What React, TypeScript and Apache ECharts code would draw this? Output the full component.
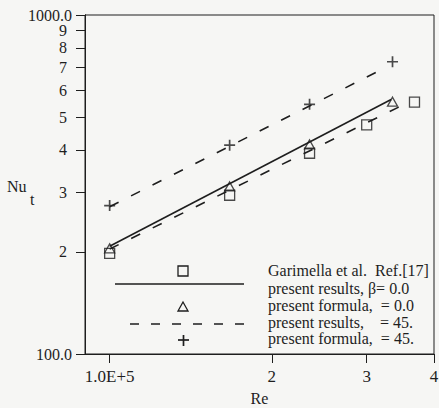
import React, { useEffect, useRef } from "react";
import * as echarts from "echarts";

// ---- data (Re, Nu_t) ----
const reGarimella = [1.0e5, 1.67e5, 2.35e5, 3.0e5, 3.68e5];
const nuGarimella = [198, 294, 391, 474, 553];

const reFormula0 = [1.0e5, 1.67e5, 2.35e5, 3.35e5];
const nuFormula0 = [205, 312, 415, 555];

const reFormula45 = [1.0e5, 1.67e5, 2.35e5, 3.35e5];
const nuFormula45 = [274, 413, 545, 728];

const reResults0 = [1.0e5, 3.33e5];
const nuResults0 = [208, 563];

const reResults45 = [1.0e5, 3.15e5];
const nuResults45 = [272, 682];

const reResults0Dash = [1.0e5, 3.44e5];
const nuResults0Dash = [204, 535];

const xTickValues = [1e5, 2e5, 3e5, 4e5];
const xTickLabels = ["1.0E+5", "2", "3", "4"];
const yMinorValues = [200, 300, 400, 500, 600, 700, 800, 900];
const yMinorLabels = ["2", "3", "4", "5", "6", "7", "8", "9"];
const yMajorValues = [100, 1000];
const yMajorLabels = ["100.0", "1000.0"];
const xRange = [0.9e5, 4e5];
const yRange = [100, 1000];

const legendTexts = [
  "Garimella et al.  Ref.[17]",
  "present results, \u03B2= 0.0",
  "present formula,  = 0.0",
  "present results,    = 45.",
  "present formula,  = 45.",
];

const L = Math.log10;
const pts = (xs: number[], ys: number[]) => xs.map((x, i) => [L(x), L(ys[i])]);
const findLabel = (vals: number[], labels: string[], v: number) => {
  for (let i = 0; i < vals.length; i++) if (Math.abs(L(vals[i]) - v) < 1e-6) return labels[i];
  return "";
};

const INK = "#1e1e1e";
const FONT = '"Liberation Serif", "Times New Roman", serif';

const yAxisOf = (vals: number[], labels: string[], margin: number) => ({
  type: "value",
  min: L(yRange[0]),
  max: L(yRange[1]),
  position: "left",
  offset: 0,
  axisLine: { show: true, lineStyle: { color: INK, width: 1 } },
  axisTick: {
    show: true,
    inside: false,
    length: 9,
    customValues: vals.map(L),
    lineStyle: { color: INK },
  },
  axisLabel: {
    customValues: vals.map(L),
    showMinLabel: true,
    showMaxLabel: true,
    margin,
    fontSize: 16,
    fontFamily: FONT,
    color: INK,
    formatter: (v: number) => findLabel(vals, labels, v),
  },
  splitLine: { show: false },
});

export default function App() {
  const ref = useRef<HTMLDivElement>(null);
  useEffect(() => {
    if (!ref.current) return;
    const chart = echarts.init(ref.current, undefined, { renderer: "svg" });
    const markerStyle = { color: "rgba(0,0,0,0)", borderColor: INK, borderWidth: 1.3 };
    const legendY = [270, 288, 305, 322, 338];
    chart.setOption({
      animation: false,
      backgroundColor: "#f6f6f4",
      textStyle: { fontFamily: FONT, color: INK },
      grid: {
        left: 85,
        right: 5,
        top: 15,
        bottom: 54,
        show: true,
        borderColor: INK,
        borderWidth: 1,
        outerBoundsMode: "none",
      },
      xAxis: {
        type: "value",
        min: L(xRange[0]),
        max: L(xRange[1]),
        name: "Re",
        nameLocation: "middle",
        nameGap: 36,
        nameTextStyle: { fontSize: 16, fontFamily: FONT, color: INK },
        axisLine: { show: true, lineStyle: { color: INK, width: 1 } },
        axisTick: {
          show: true,
          inside: false,
          length: 9,
          customValues: xTickValues.map(L),
          lineStyle: { color: INK },
        },
        axisLabel: {
          customValues: xTickValues.map(L),
          showMinLabel: true,
          showMaxLabel: true,
          margin: 14,
          fontSize: 17,
          fontFamily: FONT,
          color: INK,
          formatter: (v: number) => findLabel(xTickValues, xTickLabels, v),
        },
        splitLine: { show: false },
      },
      yAxis: [
        yAxisOf(yMinorValues, yMinorLabels, 18),
        yAxisOf(yMajorValues, yMajorLabels, 13),
      ],
      series: [
        {
          type: "line",
          data: pts(reResults0, nuResults0),
          symbol: "none",
          lineStyle: { color: INK, width: 1.6 },
        },
        {
          type: "line",
          data: pts(reResults45, nuResults45),
          symbol: "none",
          lineStyle: { color: INK, width: 1.6, type: [10, 14] },
        },
        {
          type: "line",
          data: pts(reResults0Dash, nuResults0Dash),
          symbol: "none",
          lineStyle: { color: INK, width: 1.6, type: [10, 14] },
        },
        {
          type: "scatter",
          data: pts(reGarimella, nuGarimella),
          symbol: "rect",
          symbolSize: 10,
          itemStyle: markerStyle,
        },
        {
          type: "scatter",
          data: pts(reFormula0, nuFormula0),
          symbol: "triangle",
          symbolSize: [10, 9],
          itemStyle: markerStyle,
        },
        {
          type: "scatter",
          data: pts(reFormula45, nuFormula45),
          symbol: "path://M5,0L5,10M0,5L10,5",
          symbolSize: 11,
          itemStyle: { color: "rgba(0,0,0,0)", borderColor: INK, borderWidth: 1.7 },
        },
      ],
      graphic: [
        { type: "text", x: 7, y: 186, style: { text: "Nu", font: `16px ${FONT}`, fill: INK, verticalAlign: "middle" } },
        { type: "text", x: 30, y: 199, style: { text: "t", font: `16px ${FONT}`, fill: INK, verticalAlign: "middle" } },
        { type: "rect", shape: { x: 178, y: 266, width: 10, height: 10 }, style: { fill: "none", stroke: INK, lineWidth: 1.3 } },
        { type: "line", shape: { x1: 115, y1: 284, x2: 244, y2: 284 }, style: { stroke: INK, lineWidth: 1.6 } },
        { type: "polygon", shape: { points: [[183, 302], [178, 311], [188, 311]] }, style: { fill: "none", stroke: INK, lineWidth: 1.3 } },
        { type: "line", shape: { x1: 130, y1: 324, x2: 245, y2: 324 }, style: { stroke: INK, lineWidth: 1.6, lineDash: [9, 12] } },
        { type: "line", shape: { x1: 178, y1: 340, x2: 189, y2: 340 }, style: { stroke: INK, lineWidth: 1.7 } },
        { type: "line", shape: { x1: 183.5, y1: 335, x2: 183.5, y2: 346 }, style: { stroke: INK, lineWidth: 1.7 } },
        ...legendTexts.map((t, i) => ({
          type: "text",
          x: 268,
          y: legendY[i],
          style: { text: t, font: `16px ${FONT}`, lineHeight: 14, fill: INK, verticalAlign: "middle" },
        })),
      ],
    });
    return () => chart.dispose();
  }, []);
  return (
    <div
      ref={ref}
      style={{ position: "fixed", left: 0, top: 0, width: 439, height: 408 }}
    />
  );
}
